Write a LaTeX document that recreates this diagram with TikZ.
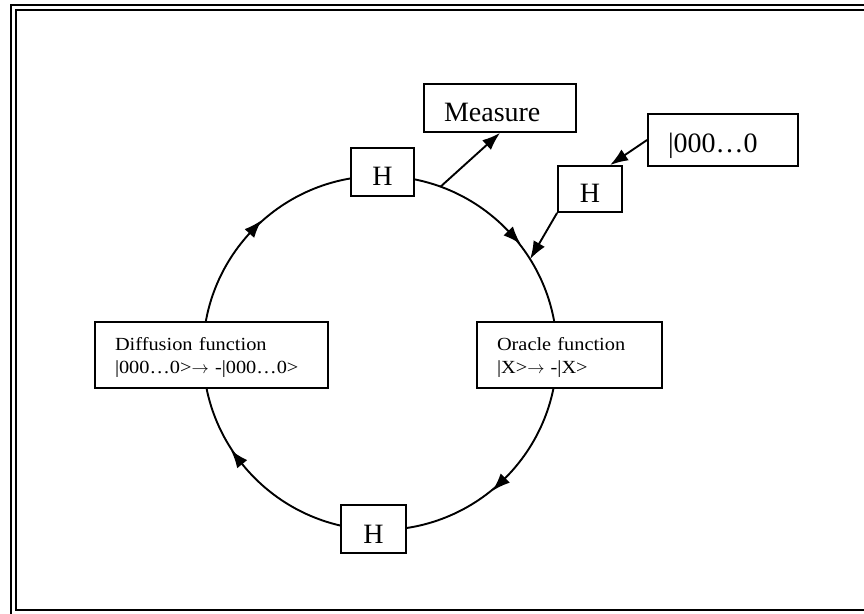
\documentclass[tikz,border=0pt]{standalone}
\usepackage{fontspec}
\setmainfont{Liberation Serif}
\newfontfamily\widefont[FakeStretch=1.1]{Liberation Serif}
\usetikzlibrary{arrows.meta,decorations.markings}

\tikzset{
	flowtip/.tip = {Latex[length=18pt,width=13pt]},
	groverpicture/.style = {
		x = 1pt,
		y = 1pt,
		line width = 1.9pt,
		arrow/.style = {
			draw,
			-flowtip,
		}
	},
	gatenode/.style = {
		draw,
		fill = white,
		font = \fontsize{28}{30}\selectfont,
		inner xsep = 0pt,
		inner ysep = 4pt,
		text height = 34pt,
		text depth = 6pt,
		minimum width = 64pt
	},
	textnode/.style = {
		gatenode,
		align = left,
		inner xsep = 20pt
	},
	funcnode/.style = {
		draw,
		fill = white,
		font = \widefont\fontsize{18.5}{23}\selectfont,
		align = left,
		inner xsep = 20pt,
		inner ysep = 4pt,
		text height = 24.7pt,
		text depth = 33.3pt
	},
	ring/.style = {
		draw,
		postaction = {decorate},
		decoration = {markings,
			mark = at position 0.121 with {\arrow{flowtip[reversed]}},
			mark = at position 0.382 with {\arrow{flowtip[reversed]}},
			mark = at position 0.608 with {\arrow{flowtip[reversed]}},
			mark = at position 0.875 with {\arrow{flowtip[reversed]}}
		}
	}
}

\begin{document}
\begin{tikzpicture}[groverpicture]
	\useasboundingbox (0,0) rectangle (864,613);
	\clip (0,0) rectangle (864,613);
	\draw[line width=2pt] (11,-2) rectangle (880,608);
	\draw[line width=2pt] (16,3) rectangle (875,603);

	% main loop
	\coordinate (ring) at (380,260);
	\path[ring] (ring) circle[radius=177];
	\path (ring) ++(70:177) coordinate (tap);
	\path (ring) ++(32:177) coordinate (entry);

	\node[gatenode, minimum width=63pt] (Htop) at (382.5,441) {H};
	\node[gatenode, minimum width=65pt] (Hbot) at (373.5,84) {H};
	\node[gatenode, text height=33pt, text depth=5pt] (Hin) at (590,424) {H};
	\node[textnode, text width=112pt] (measure) at (500,505) {Measure};
	\node[textnode, text width=110pt, text height=35pt, text depth=9pt] (zero) at (723,473) {|000…0};
	\node[funcnode, text width=193pt] (diffusion) at (211.5,258)
		{Diffusion function\\|000…0>$\rightarrow$ -|000…0>};
	\node[funcnode, text width=145pt] (oracle) at (569.5,258)
		{Oracle function\\|X>$\rightarrow$ -|X>};

	\begin{scope}[every path/.style = arrow]
		\path (tap) to (measure.south);
		\path (zero.west) to (Hin.50);
		\path (Hin.south west) to (entry);
	\end{scope}
\end{tikzpicture}
\end{document}
